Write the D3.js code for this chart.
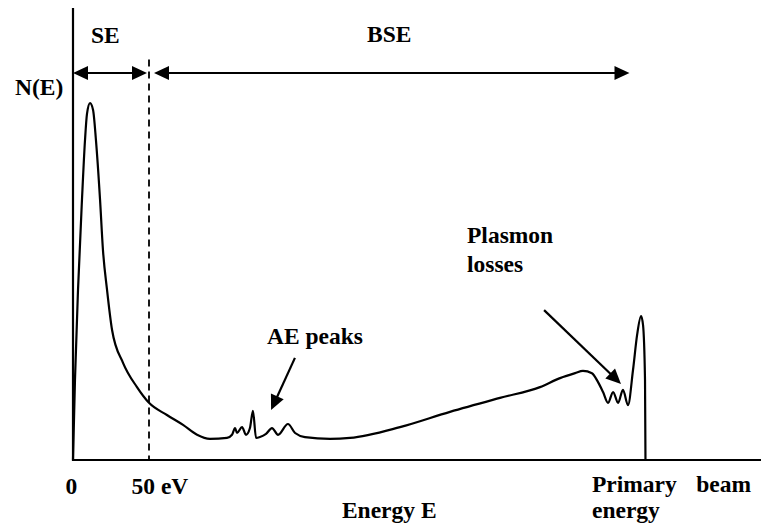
<!DOCTYPE html>
<html>
<head>
<meta charset="utf-8">
<script src="https://cdn.jsdelivr.net/npm/d3@7"></script>
<style>
  body { margin: 0; background: #fff; }
  #graph { width: 761px; height: 530px; }
</style>
</head>
<body>
<div id="graph"></div>
<script>
// Globals - schematic electron energy spectrum (energy in eV-like units, N(E) arbitrary)
var energy = [0, 1.3, 3.3, 5.9, 7.9, 9.2, 11.2, 13.2, 15.1, 17.8, 19.7, 22.4, 25.7, 32.9, 42.1, 50,
  61.8, 72.4, 81.6, 90.1, 101.3, 104.6, 106.6, 107.9, 111.2, 113.8, 116.4, 118.4, 120.4, 123.0,
  127.0, 130.9, 134.9, 141.4, 146.1, 152.6, 169.1, 182.2, 215.1, 248.0, 280.9, 307.2, 320.4,
  330.3, 335.5, 341.4, 345.4, 348.7, 352.0, 355.3, 358.6, 361.8, 365.1, 368.4, 371.1, 373.7,
  375.0, 376.3, 376.6];
var counts = [0, 17.8, 37.8, 57.8, 71.1, 76.9, 79.3, 77.8, 71.1, 57.8, 46.7, 37.8, 28.9, 21.6, 16.2, 12.7,
  10.0, 7.8, 5.6, 4.7, 4.9, 5.6, 7.1, 6.0, 7.3, 5.6, 7.1, 10.9, 4.9, 5.1,
  5.8, 7.1, 5.6, 8.0, 6.0, 5.1, 4.7, 4.9, 7.3, 10.7, 13.8, 16.2, 18.2,
  19.3, 19.8, 19.3, 17.3, 15.1, 12.7, 15.1, 12.7, 15.6, 12.2, 20.0, 27.8, 32.0,
  30.0, 17.8, 0];

var seLimit = 50;        // "50 eV" boundary
var primaryEnergy = 376.6;
var rangeLevel = 86;     // height of the SE / BSE range arrows

var axisLabels = [
  {text: "0", e: -5, dy: 34},
  {text: "50 eV", e: 38.5, dy: 34}
];

var FONT = "'Liberation Serif', 'Times New Roman', serif";

function arrowHead(g, x1, y1, x2, y2){
  // filled triangle pointing from (x1,y1) to (x2,y2)
  var ang = Math.atan2(y2 - y1, x2 - x1), len = 15, half = 7;
  var bx = x2 - len * Math.cos(ang), by = y2 - len * Math.sin(ang);
  var px = -Math.sin(ang) * half, py = Math.cos(ang) * half;
  g.append("path")
    .attr("d", "M" + x2 + "," + y2 + "L" + (bx + px) + "," + (by + py) + "L" + (bx - px) + "," + (by - py) + "Z")
    .attr("fill", "#000");
}

function arrow(g, x1, y1, x2, y2, both){
  var ang = Math.atan2(y2 - y1, x2 - x1);
  g.append("line")
    .attr("x1", both ? x1 + 10 * Math.cos(ang) : x1)
    .attr("y1", both ? y1 + 10 * Math.sin(ang) : y1)
    .attr("x2", x2 - 10 * Math.cos(ang))
    .attr("y2", y2 - 10 * Math.sin(ang))
    .attr("stroke", "#000")
    .attr("stroke-width", 2.2);
  arrowHead(g, x1, y1, x2, y2);
  if(both){ arrowHead(g, x2, y2, x1, y1); }
}

function displayGraph(){
  var svg = d3.select("#graph")
    .append("svg")
      .attr("width", 761)
      .attr("height", 530)
      .attr("font-family", FONT)
      .attr("font-weight", "bold")
      .attr("font-size", 23.5);

  var x = d3.scaleLinear()
    .domain([0, 452.6])
    .range([73, 761]);

  var y = d3.scaleLinear()
    .domain([0, 100])
    .range([460, 10]);

  // axes (plain lines, no ticks)
  svg.append("line")
    .attr("x1", x(0)).attr("y1", y(0) + 1)
    .attr("x2", x(0)).attr("y2", y(100) - 2)
    .attr("stroke", "#000").attr("stroke-width", 2.2);
  svg.append("line")
    .attr("x1", x(0) - 1).attr("y1", y(0))
    .attr("x2", x.range()[1]).attr("y2", y(0))
    .attr("stroke", "#000").attr("stroke-width", 2.2);

  // SE / BSE boundary
  svg.append("line")
    .attr("x1", x(seLimit)).attr("y1", y(89))
    .attr("x2", x(seLimit)).attr("y2", y(0))
    .attr("stroke", "#000")
    .attr("stroke-width", 1.8)
    .attr("stroke-dasharray", "7,5");

  // spectrum
  var line = d3.line()
    .x(function(d){ return x(d[0]); })
    .y(function(d){ return y(d[1]); })
    .curve(d3.curveMonotoneX);

  svg.append("path")
    .datum(d3.zip(energy, counts))
    .attr("d", line)
    .attr("fill", "none")
    .attr("stroke", "#000")
    .attr("stroke-width", 2.2)
    .attr("stroke-linejoin", "round");

  var ann = svg.append("g");
  arrow(ann, x(0), y(rangeLevel), x(seLimit) - 2, y(rangeLevel), true);
  arrow(ann, x(seLimit) + 5, y(rangeLevel), x(primaryEnergy) - 16, y(rangeLevel), true);
  // AE peaks arrow
  arrow(ann, x(146), y(22.7), x(130.3), y(11.1), false);
  // plasmon arrow
  arrow(ann, x(309.9), y(33.3), x(360.5), y(16.9), false);

  // labels
  var labels = [
    {text: "SE", x: x(11.8), y: 43},
    {text: "BSE", x: x(193.4), y: 42},
    {text: "N(E)", x: 15, y: 95},
    {text: "AE peaks", x: x(127.6), y: 344},
    {text: "Plasmon", x: x(259.2), y: 243},
    {text: "losses", x: x(259.2), y: 272},
    {text: "Energy E", x: x(176.9), y: 518},
    {text: "Primary", x: x(341.4), y: 492},
    {text: "energy", x: x(341.4), y: 518}
  ];
  svg.selectAll(".lbl")
    .data(labels)
    .enter()
    .append("text")
      .attr("class", "lbl")
      .attr("x", function(d){ return d.x; })
      .attr("y", function(d){ return d.y; })
      .text(function(d){ return d.text; });

  svg.append("text")
    .attr("x", 751).attr("y", 492)
    .attr("text-anchor", "end")
    .text("beam");

  svg.selectAll(".tick-lbl")
    .data(axisLabels)
    .enter()
    .append("text")
      .attr("class", "tick-lbl")
      .attr("x", function(d){ return x(d.e); })
      .attr("y", function(d){ return y(0) + d.dy; })
      .text(function(d){ return d.text; });
}

displayGraph();
</script>
</body>
</html>
